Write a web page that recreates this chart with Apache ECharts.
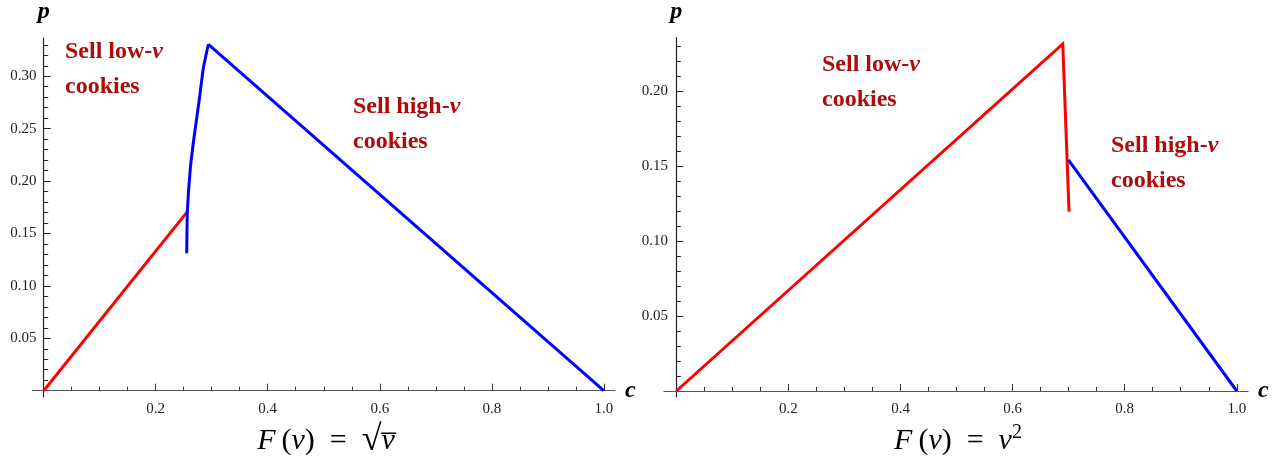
<!DOCTYPE html>
<html>
<head>
<meta charset="utf-8">
<script src="https://cdn.jsdelivr.net/npm/echarts@6/dist/echarts.min.js"></script>
<style>
  html, body { margin: 0; padding: 0; background: #fff; }
  #chart { width: 1286px; height: 465px; }
</style>
</head>
<body>
<div id="chart"></div>
<script>
// Price p against cost c, for two value distributions.

// F(v) = sqrt(v)
const sqrtRedC   = [0, 0.2565];
const sqrtRedP   = [0, 0.1708];
const sqrtCurveC = [0.2554, 0.2565, 0.2618, 0.2690, 0.2773, 0.2850, 0.2940];
const sqrtCurveP = [0.1311, 0.1708, 0.2122, 0.2440, 0.2758, 0.3076, 0.3305];
const sqrtBlueC  = [0.2940, 1.0];
const sqrtBlueP  = [0.3305, 0.0];

// F(v) = v^2
const sqRedC  = [0, 0.6895, 0.7007];
const sqRedP  = [0, 0.2313, 0.1195];
const sqBlueC = [0.6995, 1.0];
const sqBlueP = [0.154, 0.0];

// Tick values
const xMajorTicks = [0.2, 0.4, 0.6, 0.8, 1.0];
const xMinorTicks = [0.05, 0.1, 0.15, 0.25, 0.3, 0.35, 0.45, 0.5, 0.55, 0.65, 0.7, 0.75, 0.85, 0.9, 0.95];
const sqrtYMajor = [0.05, 0.10, 0.15, 0.20, 0.25, 0.30];
const sqrtYMinor = [0.01, 0.02, 0.03, 0.04, 0.06, 0.07, 0.08, 0.09, 0.11, 0.12, 0.13, 0.14,
                    0.16, 0.17, 0.18, 0.19, 0.21, 0.22, 0.23, 0.24, 0.26, 0.27, 0.28, 0.29,
                    0.31, 0.32, 0.33];
const sqYMajor = [0.05, 0.10, 0.15, 0.20];
const sqYMinor = [0.01, 0.02, 0.03, 0.04, 0.06, 0.07, 0.08, 0.09, 0.11, 0.12, 0.13, 0.14,
                  0.16, 0.17, 0.18, 0.19, 0.21, 0.22, 0.23];

const SERIF = "'Liberation Serif', 'Times New Roman', serif";
const RED = '#ff0000';
const BLUE = '#0000ff';
const NOTE = '#ac0c0c';

const zip = (xs, ys) => xs.map((x, i) => [x, ys[i]]);

const panels = [
  { grid: { left: 32.5, top: 38, width: 582.5, height: 359 },
    x: [-0.02, 1.02], y: [-0.006, 0.3365], yMajor: sqrtYMajor, yMinor: sqrtYMinor,
    series: [ { c: sqrtRedC, p: sqrtRedP, color: RED },
              { c: sqrtCurveC, p: sqrtCurveP, color: BLUE, smooth: 0.15 },
              { c: sqrtBlueC, p: sqrtBlueP, color: BLUE } ] },
  { grid: { left: 664, top: 37.7, width: 584, height: 359.3 },
    x: [-0.022, 1.02], y: [-0.004, 0.2355], yMajor: sqYMajor, yMinor: sqYMinor,
    series: [ { c: sqRedC, p: sqRedP, color: RED }, { c: sqBlueC, p: sqBlueP, color: BLUE } ] }
];

const nameStyle = { fontFamily: SERIF, fontSize: 24, fontWeight: 'bold', fontStyle: 'italic', color: '#000' };
const labelStyle = { fontFamily: SERIF, fontSize: 15, color: '#222' };

const grid = [], xAxis = [], yAxis = [], series = [];
panels.forEach((pn, g) => {
  grid.push(Object.assign({ containLabel: false, outerBoundsMode: 'none' }, pn.grid));
  // major x axis: line, long ticks, labels, name
  xAxis.push({
    type: 'value', gridIndex: g, position: 'bottom', min: pn.x[0], max: pn.x[1],
    name: 'c', nameLocation: 'end', nameGap: 10,
    nameTextStyle: Object.assign({ verticalAlign: 'middle', padding: [12, 0, 0, 0] }, nameStyle),
    axisLine: { show: true, onZero: true, lineStyle: { color: '#555', width: 1.2 } },
    axisTick: { show: true, inside: true, length: 7, customValues: xMajorTicks, lineStyle: { color: '#333', width: 1 } },
    axisLabel: Object.assign({ show: true, margin: 5, customValues: xMajorTicks, formatter: v => v.toFixed(1) }, labelStyle),
    splitLine: { show: false }
  });
  // minor x ticks
  xAxis.push({
    type: 'value', gridIndex: g, position: 'bottom', min: pn.x[0], max: pn.x[1],
    axisLine: { show: false, onZero: true },
    axisTick: { show: true, inside: true, length: 4, customValues: xMinorTicks, lineStyle: { color: '#333', width: 1 } },
    axisLabel: { show: false },
    splitLine: { show: false }
  });
  // major y axis
  yAxis.push({
    type: 'value', gridIndex: g, position: 'left', min: pn.y[0], max: pn.y[1],
    name: 'p', nameLocation: 'end', nameGap: 14, nameTextStyle: Object.assign({ align: 'center' }, nameStyle),
    axisLine: { show: true, onZero: true, lineStyle: { color: '#222', width: 1.2 } },
    axisTick: { show: true, inside: true, length: 7, customValues: pn.yMajor, lineStyle: { color: '#222', width: 1 } },
    axisLabel: Object.assign({ show: true, margin: -4, customValues: pn.yMajor, formatter: v => v.toFixed(2) }, labelStyle),
    splitLine: { show: false }
  });
  // minor y ticks
  yAxis.push({
    type: 'value', gridIndex: g, position: 'left', min: pn.y[0], max: pn.y[1],
    axisLine: { show: false, onZero: true },
    axisTick: { show: true, inside: true, length: 4.5, customValues: pn.yMinor, lineStyle: { color: '#222', width: 1 } },
    axisLabel: { show: false },
    splitLine: { show: false }
  });
  pn.series.forEach(s => {
    series.push({
      type: 'line', xAxisIndex: 2 * g, yAxisIndex: 2 * g,
      data: zip(s.c, s.p), showSymbol: false, symbol: 'none', silent: true,
      smooth: s.smooth || false,
      lineStyle: { color: s.color, width: 3, cap: 'butt', join: 'miter' }
    });
  });
});

const noteRich = {
  b:  { fontFamily: SERIF, fontSize: 24, fontWeight: 'bold', fill: NOTE, lineHeight: 35 },
  bi: { fontFamily: SERIF, fontSize: 24, fontWeight: 'bold', fontStyle: 'italic', fill: NOTE, lineHeight: 35 }
};
const note = (x, yTop, kind) => ({
  type: 'text', x: x, y: yTop, silent: true,
  style: { text: '{b|Sell ' + kind + '-}{bi|v}\n{b|cookies}', rich: noteRich, align: 'left', verticalAlign: 'top' }
});

const mathRich = {
  r:   { fontFamily: SERIF, fontSize: 30, fill: '#000', lineHeight: 36 },
  i:   { fontFamily: SERIF, fontSize: 30, fontStyle: 'italic', fill: '#000', lineHeight: 36 },
  rad: { fontFamily: SERIF, fontSize: 36, fill: '#000', lineHeight: 36 },
  sup: { fontFamily: SERIF, fontSize: 20, fill: '#000', lineHeight: 18, verticalAlign: 'top' }
};

const chart = echarts.init(document.getElementById('chart'), null, { renderer: 'canvas' });
chart.setOption({
  animation: false,
  backgroundColor: '#fff',
  grid: grid,
  xAxis: xAxis,
  yAxis: yAxis,
  series: series,
  graphic: [
    note(65, 34, 'low'),
    note(353, 89, 'high'),
    note(822, 47, 'low'),
    note(1111, 128, 'high'),
    { type: 'text', x: 326, y: 441, silent: true,
      style: { text: '{i|F}{r|\u2009(}{i|v}{r|)\u2002=\u2002}{rad|\u221A}{i|v\u0305}', rich: mathRich, align: 'center', verticalAlign: 'middle' } },
    { type: 'text', x: 958, y: 441, silent: true,
      style: { text: '{i|F}{r|\u2009(}{i|v}{r|)\u2002=\u2002}{i|v}{sup|2}', rich: mathRich, align: 'center', verticalAlign: 'middle' } }
  ]
});
</script>
</body>
</html>
